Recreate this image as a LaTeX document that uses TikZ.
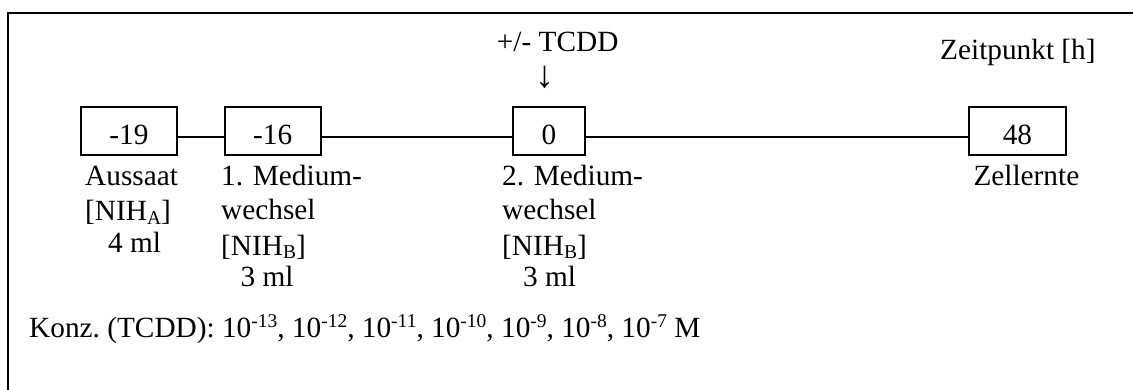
\documentclass[tikz,border=0pt]{standalone}
\usepackage{fontspec}
\setmainfont{Liberation Serif}
% small raised / lowered indices as set in the text
\newcommand{\subA}[1]{\raisebox{-0.11em}{\fontsize{19.5}{19.5}\selectfont #1}}
\newcommand{\supX}[1]{\raisebox{0.33em}{\fontsize{19.5}{19.5}\selectfont #1}}
\begin{document}
\begin{tikzpicture}[x=1pt,y=-1pt,
  every node/.style={font=\fontsize{29.3}{34}\selectfont, inner sep=0pt},
  txt/.style={anchor=base west},
  timebox/.style={draw, line width=2pt, minimum height=48pt,
    text height=28pt, text depth=0pt, anchor=center},
  link/.style={line width=1.3pt}]
  \useasboundingbox (0,0) rectangle (1133,390);
  \clip (0,0) rectangle (1133,390);

  % outer frame
  \draw[line width=2pt] (8,400) -- (8,13) -- (1140,13) -- (1140,400);

  % time points
  \node[timebox, minimum width=96pt] (t19) at (129,131) {-19};
  \node[timebox, minimum width=96pt] (t16) at (272.7,131) {-16};
  \node[timebox, minimum width=72pt] (t0)  at (548.9,131) {0};
  \node[timebox, minimum width=96.5pt] (t48) at (1017.4,131) {48};

  \draw[link] ([yshift=-6pt]t19.east) -- ([yshift=-6pt]t16.west);
  \draw[link] ([yshift=-6pt]t16.east) -- ([yshift=-6pt]t0.west);
  \draw[link] ([yshift=-6pt]t0.east)  -- ([yshift=-6pt]t48.west);

  % headings
  \node[txt] (tcdd) at (496.7,51.7) {+/- TCDD};
  \node[anchor=base, font=\fontsize{38}{40}\selectfont] (arr) at (545,88) {↓};
  \node[txt] (zeit) at (940,60) {Zeitpunkt [h]};

  % labels below the time points
  \node[txt] (a1) at (85,186) {Aussaat};
  \node[txt] (a2) at (85,221) {[NIH\subA{A}]};
  \node[txt] (a3) at (108,253) {4 ml};

  \node[txt] (b1) at (221,186) {1. Medium-};
  \node[txt] (b2) at (221,220) {wechsel};
  \node[txt] (b3) at (221,255) {[NIH\subA{B}]};
  \node[txt] (b4) at (240.5,287) {3 ml};

  \node[txt] (c1) at (502,186) {2. Medium-};
  \node[txt] (c2) at (502,220) {wechsel};
  \node[txt] (c3) at (502,255) {[NIH\subA{B}]};
  \node[txt] (c4) at (523,287) {3 ml};

  \node[txt] (d1) at (973.3,186) {Zellernte};

  % concentrations
  \node[txt] (konz) at (29,337) {\frenchspacing Konz. (TCDD): 10\supX{-13}, 10\supX{-12}, 10\supX{-11}, 10\supX{-10}, 10\supX{-9}, 10\supX{-8}, 10\supX{-7} M};
\end{tikzpicture}
\end{document}
